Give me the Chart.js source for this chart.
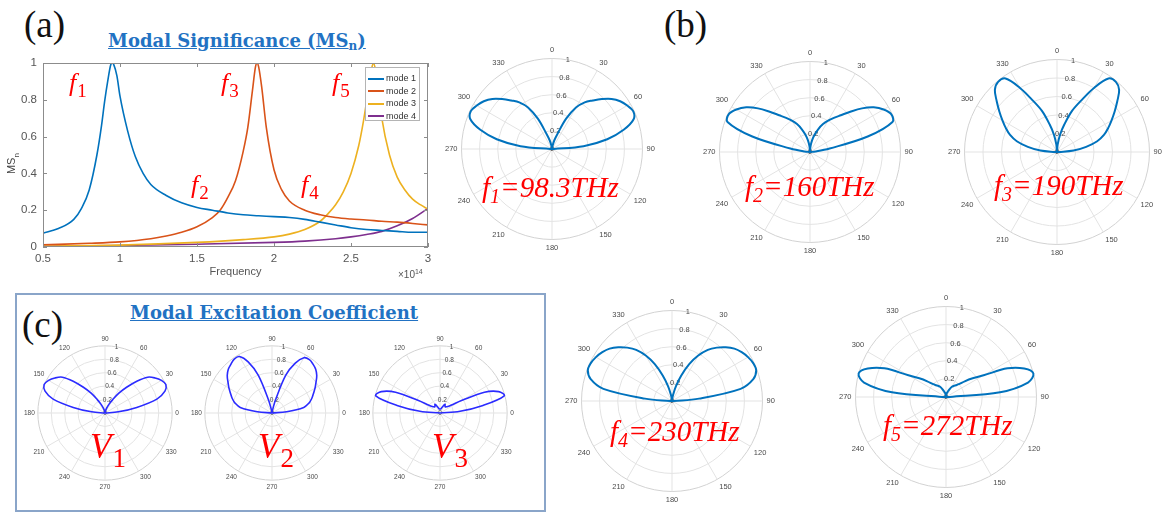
<!DOCTYPE html>
<html>
<head>
<meta charset="utf-8">
<script src="https://cdn.jsdelivr.net/npm/chart.js@4.4.1/dist/chart.umd.min.js"></script>
<style>
  body { margin: 0; background: #fff; }
  #page { position: relative; width: 1166px; height: 515px; overflow: hidden; background: #fff;
          font-family: "Liberation Sans", Arial, sans-serif; }
  canvas { position: absolute; }
  .tag { position: absolute; font-family: "Liberation Serif", serif; font-size: 37px; line-height: 1; color: #111; }
  .heading { position: absolute; font-family: "DejaVu Serif", serif; font-weight: bold; font-size: 18px;
             line-height: 1; color: #2272c3; text-decoration: underline; white-space: nowrap; }
  .heading sub { font-size: 12px; vertical-align: -3px; }
  .red { position: absolute; color: #f00; font-family: "Liberation Serif", serif; white-space: nowrap; line-height: 1; }
  .fmark { font-size: 26px; font-style: italic; }
  .fmark span { font-style: normal; font-size: 19px; position: relative; top: 6px; margin-left: 1px; }
  .freq { font-size: 29px; font-style: italic; }
  .freq span { font-size: 20px; position: relative; top: 6px; }
  .vlab { font-size: 35px; font-style: italic; }
  .vlab span { font-style: normal; font-size: 27px; position: relative; top: 9px; margin-left: 1px; }
  #ylab { position: absolute; left: -2px; top: 156px; width: 30px; text-align: center; font-size: 11px; color: #444;
          transform: rotate(-90deg); }
  #ylab sub { font-size: 8px; }
  #expo { position: absolute; left: 398px; top: 268px; font-size: 10px; color: #555; }
  #expo sup { font-size: 7px; }
  #legend { position: absolute; left: 365px; top: 67px; width: 55px; height: 54px; background: #fff;
            border: 1px solid #b4b4b4; box-sizing: border-box; font-size: 9px; color: #333; }
  #legend div { position: absolute; left: 2px; height: 10px; line-height: 10px; white-space: nowrap; }
  #legend i { display: inline-block; width: 16px; height: 2px; vertical-align: middle; margin-right: 2px; }
  #boxC { position: absolute; left: 15px; top: 293px; width: 531px; height: 219px; border: 2px solid #8aa5c9;
          box-sizing: border-box; }
</style>
</head>
<body>
<div id="page">
  <div id="boxC"></div>

  <div class="tag" style="left:24px; top:6px;">(a)</div>
  <div class="tag" style="left:664px; top:6px;">(b)</div>
  <div class="tag" style="left:22px; top:306px;">(c)</div>

  <div class="heading" style="left:108px; top:32px;">Modal Significance (MS<sub>n</sub>)</div>
  <div class="heading" style="left:130px; top:304px;">Modal Excitation Coefficient</div>

  <canvas id="msChart" width="445" height="240" style="left:0; top:50px;"></canvas>
  <div id="ylab">MS<sub>n</sub></div>
  <div id="expo">&times;10<sup>14</sup></div>
  <div id="legend"></div>

  <div class="red fmark" style="left:69px; top:70px;">f<span>1</span></div>
  <div class="red fmark" style="left:221px; top:70px;">f<span>3</span></div>
  <div class="red fmark" style="left:332px; top:70px;">f<span>5</span></div>
  <div class="red fmark" style="left:191px; top:172px;">f<span>2</span></div>
  <div class="red fmark" style="left:301px; top:172px;">f<span>4</span></div>

  <canvas id="polarF1" width="215" height="215"></canvas>
  <canvas id="polarF2" width="215" height="215"></canvas>
  <canvas id="polarF3" width="219" height="219"></canvas>
  <canvas id="polarF4" width="215" height="215"></canvas>
  <canvas id="polarF5" width="215" height="215"></canvas>
  <canvas id="polarV1" width="162" height="162"></canvas>
  <canvas id="polarV2" width="162" height="162"></canvas>
  <canvas id="polarV3" width="162" height="162"></canvas>

  <div class="red freq" style="left:482px; top:173px;">f<span>1</span>=98.3THz</div>
  <div class="red freq" style="left:745px; top:172px;">f<span>2</span>=160THz</div>
  <div class="red freq" style="left:994px; top:171px;">f<span>3</span>=190THz</div>
  <div class="red freq" style="left:610px; top:417px;">f<span>4</span>=230THz</div>
  <div class="red freq" style="left:883px; top:411px;">f<span>5</span>=272THz</div>

  <div class="red vlab" style="left:90px; top:429px;">V<span>1</span></div>
  <div class="red vlab" style="left:258px; top:429px;">V<span>2</span></div>
  <div class="red vlab" style="left:432px; top:429px;">V<span>3</span></div>
</div>

<script>
// ---- modal significance curves (frequency in 1e14 Hz) ----
const modeNames = ['mode 1', 'mode 2', 'mode 3', 'mode 4'];
const modeColors = ['#0072BD', '#D95319', '#EDB120', '#7E2F8E'];

const mode1Freq = [0.5, 0.6, 0.7, 0.75, 0.8, 0.85, 0.88, 0.9, 0.92, 0.94, 0.95, 0.96, 0.98, 1.0, 1.05, 1.1, 1.15, 1.2,
                   1.3, 1.4, 1.5, 1.6, 1.7, 1.8, 1.9, 2.0, 2.1, 2.2, 2.3, 2.4, 2.5, 2.6, 2.7, 2.8, 2.9, 3.0];
const mode1MS = [0.075, 0.10, 0.15, 0.21, 0.31, 0.5, 0.66, 0.79, 0.9, 0.99, 1.0, 0.99, 0.93, 0.82, 0.63, 0.49, 0.40, 0.34,
                 0.28, 0.24, 0.215, 0.20, 0.185, 0.175, 0.17, 0.165, 0.16, 0.15, 0.135, 0.12, 0.105, 0.095, 0.09, 0.085, 0.08, 0.08];

const mode2Freq = [0.5, 0.8, 1.0, 1.2, 1.3, 1.4, 1.5, 1.6, 1.65, 1.7, 1.75, 1.8, 1.83, 1.86, 1.88, 1.89, 1.9, 1.92, 1.95,
                   2.0, 2.05, 2.1, 2.2, 2.3, 2.4, 2.5, 2.6, 2.7, 2.8, 2.9, 3.0];
const mode2MS = [0.012, 0.02, 0.028, 0.045, 0.06, 0.08, 0.11, 0.16, 0.2, 0.27, 0.36, 0.52, 0.65, 0.85, 0.98, 1.0, 0.98, 0.87, 0.65,
                 0.42, 0.31, 0.25, 0.2, 0.175, 0.16, 0.152, 0.147, 0.14, 0.135, 0.128, 0.12];

const mode3Freq = [0.5, 1.0, 1.5, 1.8, 2.0, 2.1, 2.2, 2.3, 2.35, 2.4, 2.45, 2.5, 2.55, 2.58, 2.61, 2.63, 2.645, 2.66, 2.68,
                   2.7, 2.75, 2.8, 2.85, 2.9, 2.95, 3.0];
const mode3MS = [0.005, 0.01, 0.025, 0.04, 0.055, 0.07, 0.095, 0.14, 0.18, 0.23, 0.30, 0.40, 0.55, 0.68, 0.84, 0.95, 1.0, 0.96, 0.84,
                 0.70, 0.50, 0.38, 0.31, 0.26, 0.23, 0.205];

const mode4Freq = [0.5, 1.0, 1.5, 2.0, 2.2, 2.4, 2.5, 2.6, 2.7, 2.8, 2.9, 3.0];
const mode4MS = [0.003, 0.008, 0.015, 0.025, 0.032, 0.045, 0.055, 0.068, 0.085, 0.115, 0.155, 0.21];

const xTicks = [0.5, 1, 1.5, 2, 2.5, 3];
const yTicks = [0, 0.2, 0.4, 0.6, 0.8, 1];

// ---- radiation patterns (normalised, 5 degree steps) ----
// (b): theta clockwise from the top, 0..355
const thetaB = [0, 5, 10, 15, 20, 25, 30, 35, 40, 45, 50, 55, 60, 65, 70, 75, 80, 85, 90,
                95, 100, 105, 110, 115, 120, 125, 130, 135, 140, 145, 150, 155, 160, 165, 170, 175, 180,
                185, 190, 195, 200, 205, 210, 215, 220, 225, 230, 235, 240, 245, 250, 255, 260, 265,
                270, 275, 280, 285, 290, 295, 300, 305, 310, 315, 320, 325, 330, 335, 340, 345, 350, 355];
// (c): angle counter-clockwise from the right, listed clockwise starting at the top
const phiC = [90, 85, 80, 75, 70, 65, 60, 55, 50, 45, 40, 35, 30, 25, 20, 15, 10, 5, 0,
              355, 350, 345, 340, 335, 330, 325, 320, 315, 310, 305, 300, 295, 290, 285, 280, 275, 270,
              265, 260, 255, 250, 245, 240, 235, 230, 225, 220, 215, 210, 205, 200, 195, 190, 185,
              180, 175, 170, 165, 160, 155, 150, 145, 140, 135, 130, 125, 120, 115, 110, 105, 100, 95];

// 35 directions with no radiation (lower half of every pattern)
const nullSector = [0, 0, 0, 0, 0, 0, 0, 0, 0, 0, 0, 0, 0, 0, 0, 0, 0, 0, 0, 0,
                    0, 0, 0, 0, 0, 0, 0, 0, 0, 0, 0, 0, 0, 0, 0];

// right lobe (0..90) and left lobe (270..355) for each resonance
const f1Right = [0, 0.01, 0.04, 0.1, 0.18, 0.37, 0.53, 0.63, 0.70, 0.78, 0.86, 0.92, 0.96, 0.99, 0.96, 0.82, 0.62, 0.35, 0.02];
const f1Left = [0.02, 0.35, 0.62, 0.82, 0.96, 0.99, 0.96, 0.92, 0.86, 0.78, 0.70, 0.63, 0.53, 0.37, 0.18, 0.1, 0.04, 0.01];
const f2Right = [0, 0.06, 0.13, 0.2, 0.27, 0.34, 0.40, 0.46, 0.53, 0.63, 0.75, 0.86, 0.94, 0.99, 0.97, 0.66, 0.22, 0.06, 0];
const f2Left = [0, 0.06, 0.22, 0.66, 0.97, 0.99, 0.94, 0.86, 0.75, 0.63, 0.53, 0.46, 0.40, 0.34, 0.27, 0.2, 0.13, 0.06];
const f3Right = [0, 0.08, 0.19, 0.31, 0.47, 0.61, 0.8, 0.97, 0.99, 0.95, 0.85, 0.76, 0.68, 0.61, 0.54, 0.45, 0.32, 0.18, 0.02];
const f3Left = [0.02, 0.18, 0.32, 0.45, 0.54, 0.61, 0.68, 0.76, 0.85, 0.95, 0.99, 0.97, 0.8, 0.61, 0.47, 0.31, 0.19, 0.08];
const f4Right = [0, 0.02, 0.07, 0.17, 0.3, 0.45, 0.58, 0.69, 0.77, 0.84, 0.9, 0.94, 0.97, 0.99, 0.99, 0.93, 0.77, 0.3, 0.02];
const f4Left = [0.02, 0.3, 0.77, 0.93, 0.99, 0.99, 0.97, 0.94, 0.9, 0.84, 0.77, 0.69, 0.58, 0.45, 0.3, 0.17, 0.07, 0.02];
const f5Right = [0, 0.02, 0.04, 0.05, 0.07, 0.1, 0.13, 0.15, 0.17, 0.2, 0.27, 0.36, 0.48, 0.75, 0.92, 1.0, 0.92, 0.6, 0.04];
const f5Left = [0.04, 0.6, 0.92, 1.0, 0.92, 0.75, 0.48, 0.36, 0.27, 0.2, 0.17, 0.15, 0.13, 0.1, 0.07, 0.05, 0.04, 0.02];

// upper-right lobe (90 down to 0) and upper-left lobe (180 down to 95) for each excitation
const v1Right = [0, 0.01, 0.03, 0.05, 0.09, 0.15, 0.23, 0.36, 0.5, 0.67, 0.83, 0.91, 0.97, 1.0, 0.95, 0.8, 0.48, 0.2, 0];
const v1Left = [0, 0.2, 0.48, 0.8, 0.95, 1.0, 0.97, 0.91, 0.83, 0.67, 0.5, 0.36, 0.23, 0.15, 0.09, 0.05, 0.03, 0.01];
const v2Right = [0, 0.01, 0.04, 0.2, 0.6, 0.82, 0.95, 0.97, 0.95, 0.92, 0.87, 0.8, 0.74, 0.68, 0.63, 0.57, 0.48, 0.22, 0];
const v2Left = [0, 0.22, 0.48, 0.57, 0.63, 0.68, 0.74, 0.8, 0.87, 0.92, 0.95, 0.98, 0.97, 0.84, 0.6, 0.2, 0.04, 0.01];
const v3Right = [0.06, 0.06, 0.06, 0.07, 0.09, 0.12, 0.15, 0.13, 0.12, 0.13, 0.15, 0.2, 0.37, 0.73, 0.93, 0.99, 0.65, 0.3, 0];
const v3Left = [0, 0.3, 0.65, 0.99, 0.93, 0.73, 0.37, 0.2, 0.15, 0.13, 0.12, 0.13, 0.15, 0.12, 0.09, 0.07, 0.06, 0.06];

const radialTicks = [0, 0.2, 0.4, 0.6, 0.8, 1];

// ---------------------
// MS_n line chart
// ---------------------
const toPoints = (xs, ys) => xs.map((x, i) => ({ x: x, y: ys[i] }));
const modeSeries = [
  toPoints(mode1Freq, mode1MS),
  toPoints(mode2Freq, mode2MS),
  toPoints(mode3Freq, mode3MS),
  toPoints(mode4Freq, mode4MS)
];

// box around the axes with inward tick marks, like a MATLAB figure
const axesFrame = {
  id: 'axesFrame',
  afterDatasetsDraw(chart) {
    const { ctx, chartArea: a, scales } = chart;
    ctx.save();
    ctx.strokeStyle = '#8c8c8c';
    ctx.lineWidth = 1;
    ctx.strokeRect(a.left + 0.5, a.top + 0.5, a.right - a.left - 1, a.bottom - a.top - 1);
    ctx.beginPath();
    xTicks.forEach(v => {
      const x = Math.round(scales.x.getPixelForValue(v)) + 0.5;
      ctx.moveTo(x, a.bottom); ctx.lineTo(x, a.bottom - 4);
      ctx.moveTo(x, a.top); ctx.lineTo(x, a.top + 4);
    });
    yTicks.forEach(v => {
      const y = Math.round(scales.y.getPixelForValue(v)) + 0.5;
      ctx.moveTo(a.left, y); ctx.lineTo(a.left + 4, y);
      ctx.moveTo(a.right, y); ctx.lineTo(a.right - 4, y);
    });
    ctx.stroke();
    ctx.restore();
  }
};

new Chart(document.getElementById('msChart'), {
  type: 'line',
  data: {
    datasets: modeSeries.map((pts, i) => ({
      label: modeNames[i],
      data: pts,
      borderColor: modeColors[i],
      borderWidth: 1.6,
      pointRadius: 0,
      cubicInterpolationMode: 'monotone',
      fill: false
    }))
  },
  options: {
    responsive: false,
    animation: false,
    devicePixelRatio: 1,
    layout: { padding: { top: 13, right: 17, left: 0, bottom: 0 } },
    plugins: { legend: { display: false }, tooltip: { enabled: false } },
    scales: {
      x: {
        type: 'linear', min: 0.5, max: 3,
        afterBuildTicks: s => { s.ticks = xTicks.map(v => ({ value: v })); },
        afterFit: s => { s.height = 43; },
        grid: { display: false, drawTicks: false },
        border: { display: false },
        ticks: { padding: 5, color: '#555', font: { size: 11.5, family: 'Liberation Sans' }, maxRotation: 0,
                 callback: v => String(v) },
        title: { display: true, text: 'Frequency', color: '#555', font: { size: 11, family: 'Liberation Sans' },
                 padding: { top: 0, bottom: 11 } }
      },
      y: {
        min: 0, max: 1,
        afterBuildTicks: s => { s.ticks = yTicks.map(v => ({ value: v })); },
        afterFit: s => { s.width = 43; },
        grid: { display: false, drawTicks: false },
        border: { display: false },
        ticks: { padding: 6, color: '#555', font: { size: 11.5, family: 'Liberation Sans' }, callback: v => String(v) }
      }
    }
  },
  plugins: [axesFrame]
});

// legend box drawn over the axes
const legendBox = document.getElementById('legend');
modeNames.forEach((name, i) => {
  const row = document.createElement('div');
  row.style.top = (5 + i * 12.5) + 'px';
  row.innerHTML = '<i style="background:' + modeColors[i] + '"></i>' + name;
  legendBox.appendChild(row);
});

// ---------------------
// polar patterns (radar charts with circular grid)
// ---------------------

// radial tick labels set along the ray 10 degrees clockwise from the top
const polarTickLabels = {
  id: 'polarTickLabels',
  beforeDatasetsDraw(chart, args, opts) {
    const r = chart.scales.r;
    const ctx = chart.ctx;
    ctx.save();
    ctx.font = opts.size + 'px "Liberation Sans", Arial, sans-serif';
    ctx.fillStyle = '#4a4a4a';
    ctx.textAlign = 'center';
    ctx.textBaseline = 'middle';
    radialTicks.forEach(v => {
      const p = r.getPointPositionForValue(2, v);
      ctx.fillText(String(v), p.x, p.y);
    });
    ctx.restore();
  }
};

function drawPolar(id, angles, values, look) {
  const canvas = document.getElementById(id);
  const chart = new Chart(canvas, {
    type: 'radar',
    data: {
      labels: angles.map(String),
      datasets: [{
        data: values,
        borderColor: look.color,
        borderWidth: look.width,
        borderJoinStyle: 'round',
        pointRadius: 0,
        fill: false,
        tension: 0.35
      }]
    },
    options: {
      responsive: false,
      animation: false,
      devicePixelRatio: 1,
      layout: { padding: 0 },
      plugins: {
        legend: { display: false },
        tooltip: { enabled: false },
        polarTickLabels: { size: look.font }
      },
      scales: {
        r: {
          min: 0, max: 1,
          ticks: { stepSize: 0.2, display: false },
          grid: { circular: true, color: c => (c.tick && c.tick.value === 1 ? '#d2d2d2' : '#e3e3e3'), lineWidth: 1 },
          angleLines: { color: c => (angles[c.index] % 30 === 0 ? '#e3e3e3' : 'rgba(0,0,0,0)'), lineWidth: 1 },
          pointLabels: {
            padding: look.pad,
            color: '#4a4a4a',
            font: { size: look.font, family: 'Liberation Sans' },
            callback: label => (Number(label) % 30 === 0 ? label : '')
          }
        }
      }
    },
    plugins: [polarTickLabels]
  });
  // place the canvas so the pole sits at the wanted spot
  const r = chart.scales.r;
  canvas.style.left = (look.cx - r.xCenter) + 'px';
  canvas.style.top = (look.cy - r.yCenter) + 'px';
  return chart;
}

const lookB = { color: '#0072BD', width: 2, font: 7.5, pad: 4 };
const lookC = { color: '#2b2bff', width: 1.6, font: 6.5, pad: 3 };

drawPolar('polarF1', thetaB, [...f1Right, ...nullSector, ...f1Left], Object.assign({ cx: 552, cy: 149 }, lookB));
drawPolar('polarF2', thetaB, [...f2Right, ...nullSector, ...f2Left], Object.assign({ cx: 810, cy: 152 }, lookB));
drawPolar('polarF3', thetaB, [...f3Right, ...nullSector, ...f3Left], Object.assign({ cx: 1057, cy: 152 }, lookB));
drawPolar('polarF4', thetaB, [...f4Right, ...nullSector, ...f4Left], Object.assign({ cx: 672, cy: 401 }, lookB));
drawPolar('polarF5', thetaB, [...f5Right, ...nullSector, ...f5Left], Object.assign({ cx: 946, cy: 397 }, lookB));

drawPolar('polarV1', phiC, [...v1Right, ...nullSector, ...v1Left], Object.assign({ cx: 105, cy: 413 }, lookC));
drawPolar('polarV2', phiC, [...v2Right, ...nullSector, ...v2Left], Object.assign({ cx: 272, cy: 413 }, lookC));
drawPolar('polarV3', phiC, [...v3Right, ...nullSector, ...v3Left], Object.assign({ cx: 440, cy: 413 }, lookC));
</script>
</body>
</html>
